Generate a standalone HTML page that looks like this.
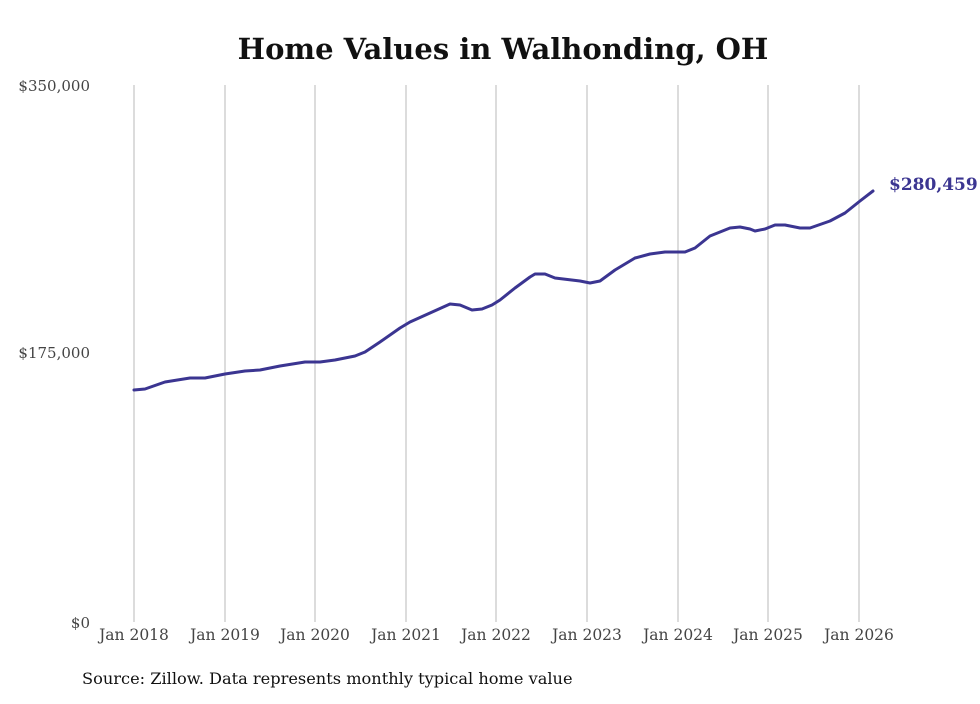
<!DOCTYPE html>
<html><head><style>
body{margin:0;background:#fff;}
svg text{font-family:"DejaVu Serif","Liberation Serif",serif;}
</style></head><body>
<svg width="980" height="699" xmlns="http://www.w3.org/2000/svg">
<rect width="980" height="699" fill="#fff"/>
<text x="503" y="59" text-anchor="middle" font-size="29" font-weight="bold" fill="#111">Home Values in Walhonding, OH</text>
<g stroke="#b8b8b8" stroke-width="1">
<line x1="134" y1="85" x2="134" y2="622"/><line x1="225" y1="85" x2="225" y2="622"/>
<line x1="315" y1="85" x2="315" y2="622"/><line x1="406" y1="85" x2="406" y2="622"/>
<line x1="496" y1="85" x2="496" y2="622"/><line x1="587" y1="85" x2="587" y2="622"/>
<line x1="678" y1="85" x2="678" y2="622"/><line x1="768" y1="85" x2="768" y2="622"/>
<line x1="859" y1="85" x2="859" y2="622"/>
</g>
<g font-size="15" fill="#444" text-anchor="end">
<text x="90" y="91">$350,000</text>
<text x="90" y="358">$175,000</text>
<text x="90" y="628">$0</text>
</g>
<g font-size="15.5" fill="#444" text-anchor="middle">
<text x="134" y="640">Jan 2018</text><text x="225" y="640">Jan 2019</text>
<text x="315" y="640">Jan 2020</text><text x="406" y="640">Jan 2021</text>
<text x="496" y="640">Jan 2022</text><text x="587" y="640">Jan 2023</text>
<text x="678" y="640">Jan 2024</text><text x="768" y="640">Jan 2025</text>
<text x="859" y="640">Jan 2026</text>
</g>
<polyline fill="none" stroke="#3b3591" stroke-width="3" stroke-linejoin="round" stroke-linecap="round" points="134,390 145,389 165,382 190,378 205,378 225,374 245,371 260,370 280,366 305,362 320,362 335,360 355,356 365,352 380,342 400,328 410,322 430,313 450,304 460,305 472,310 482,309 492,305 500,300 515,288 530,277 535,274 545,274 555,278 580,281 590,283 600,281 615,270 635,258 650,254 665,252 685,252 695,248 710,236 730,228 740,227 750,229 755,231 765,229 775,225 785,225 800,228 810,228 830,221 845,213 860,201 873,191"/>
<text x="889" y="190" font-size="17" font-weight="bold" fill="#3b3591">$280,459</text>
<text x="82" y="684" font-size="16.2" fill="#111">Source: Zillow. Data represents monthly typical home value</text>
</svg>
</body></html>
